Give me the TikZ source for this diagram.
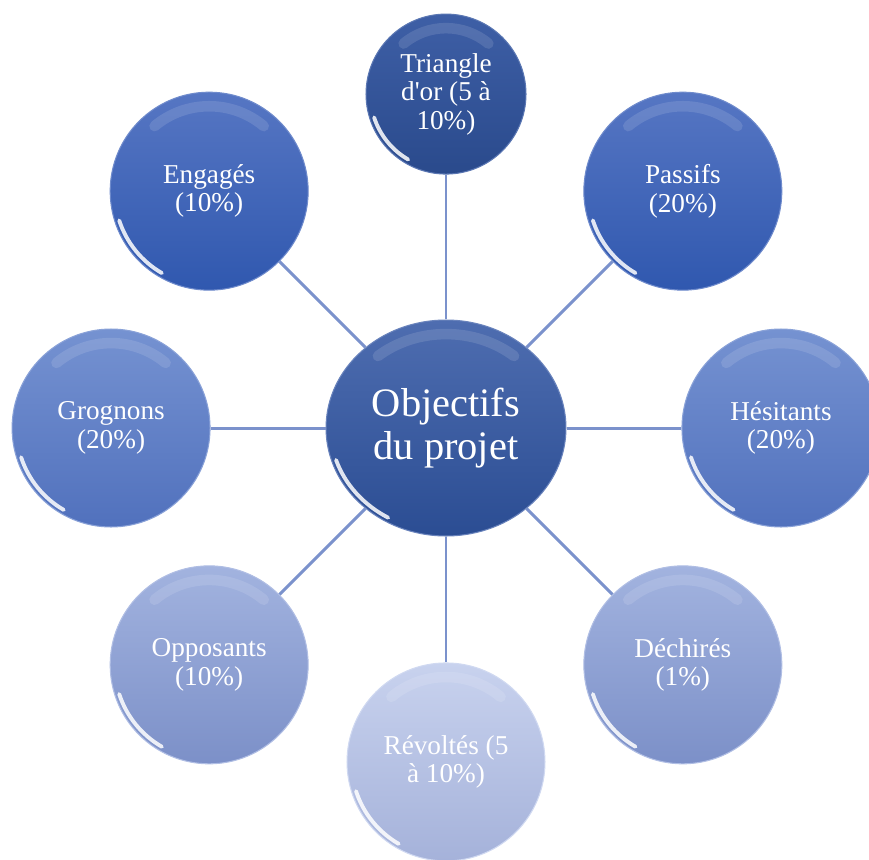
\documentclass[tikz,border=0pt]{standalone}
\usepackage{fontspec}
\setmainfont{Liberation Serif}
\usetikzlibrary{shapes.geometric, calc}

\definecolor{hubtop}{HTML}{4E6DB0}
\definecolor{hubbot}{HTML}{2B4D93}
\definecolor{tritop}{HTML}{3E5FA6}
\definecolor{tribot}{HTML}{2A4A8C}
\definecolor{deeptop}{HTML}{5676C3}
\definecolor{deepbot}{HTML}{3058AF}
\definecolor{midtop}{HTML}{7592D1}
\definecolor{midbot}{HTML}{5171BD}
\definecolor{softtop}{HTML}{A2B3DF}
\definecolor{softbot}{HTML}{7C90C8}
\definecolor{paletop}{HTML}{C8D2EE}
\definecolor{palebot}{HTML}{A5B2DA}
\definecolor{spoke}{HTML}{7B92CC}

\begin{document}
\begin{tikzpicture}[x=0.02cm, y=-0.02cm,
    gloss/.style={path picture={
        \draw[white, line width=2.2pt, opacity=0.85, line cap=round]
          let \p1 = ($(path picture bounding box.north east)-(path picture bounding box.center)$),
              \n1 = {\x1-2.5pt}, \n2 = {\y1-2.5pt} in
          ($(path picture bounding box.center)+(198:\n1 and \n2)$)
          arc[start angle=198, end angle=240, x radius=\n1, y radius=\n2];
        \draw[white, line width=6pt, opacity=0.12, line cap=round]
          let \p1 = ($(path picture bounding box.north east)-(path picture bounding box.center)$),
              \n1 = {\x1-8pt}, \n2 = {\y1-8pt} in
          ($(path picture bounding box.center)+(50:\n1 and \n2)$)
          arc[start angle=50, end angle=130, x radius=\n1, y radius=\n2];
    }},
    bead/.style 2 args={circle, minimum size=3.96cm, inner sep=0pt, align=center,
        text=white, font=\fontsize{15.5}{16.2}\selectfont,
        top color=#1, bottom color=#2, draw=#1!85!white, line width=0.6pt, gloss},
    spokeline/.style={draw=spoke, line width=1.7pt}
]
\useasboundingbox (0,0) rectangle (869,859);

\node[ellipse, minimum width=4.8cm, minimum height=4.32cm, inner sep=0pt, align=center,
    text=white, font=\fontsize{23}{24.5}\selectfont,
    top color=hubtop, bottom color=hubbot, draw=hubtop!85!white, line width=0.6pt, gloss]
    (hub) at (446,428) {Objectifs\\du projet};

\node[bead={tritop}{tribot}, minimum size=3.2cm] (triangle) at ($(hub)+(90:6.68cm)$)
    {Triangle\\d\textquotesingle or (5 à\\10\%)};
\node[bead={deeptop}{deepbot}] (passifs) at ($(hub)+(45:6.7cm)$) {Passifs\\(20\%)};
\node[bead={midtop}{midbot}] (hesitants) at ($(hub)+(0:6.7cm)$) {Hésitants\\(20\%)};
\node[bead={softtop}{softbot}] (dechires) at ($(hub)+(-45:6.7cm)$) {Déchirés\\(1\%)};
\node[bead={paletop}{palebot}] (revoltes) at ($(hub)+(-90:6.68cm)$) {Révoltés (5\\à 10\%)};
\node[bead={softtop}{softbot}] (opposants) at ($(hub)+(-135:6.7cm)$) {Opposants\\(10\%)};
\node[bead={midtop}{midbot}] (grognons) at ($(hub)+(180:6.7cm)$) {Grognons\\(20\%)};
\node[bead={deeptop}{deepbot}] (engages) at ($(hub)+(135:6.7cm)$) {Engagés\\(10\%)};

\foreach \n in {triangle, passifs, hesitants, dechires, revoltes, opposants, grognons, engages}
    \draw[spokeline] (hub) -- (\n);
\end{tikzpicture}
\end{document}
